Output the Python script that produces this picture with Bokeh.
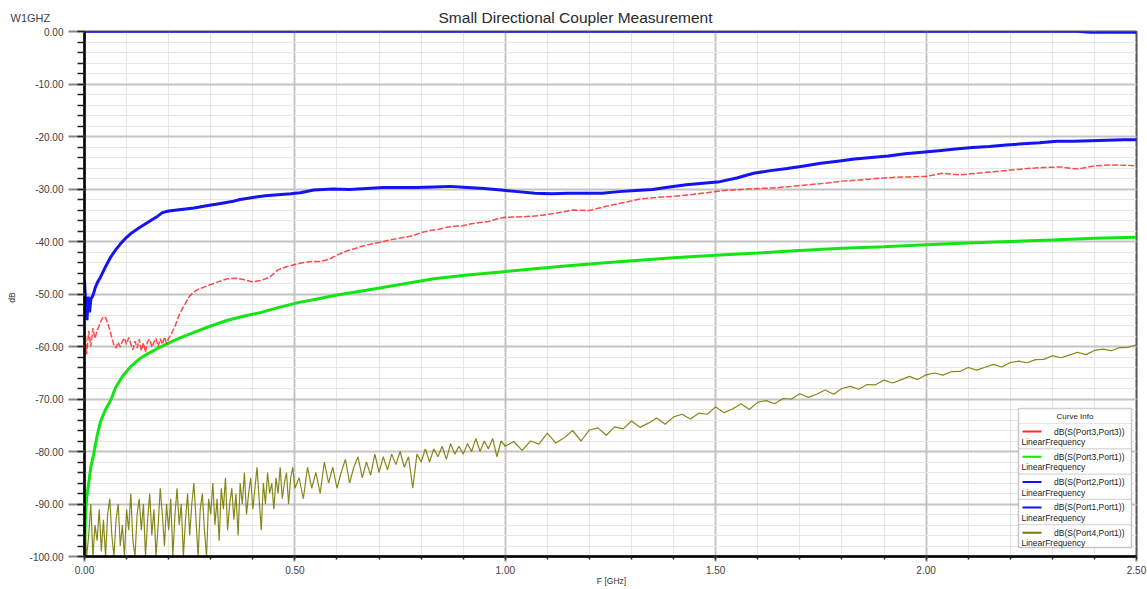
import math
from bokeh.plotting import figure
from bokeh.models import (Range1d, FixedTicker, NumeralTickFormatter, Label,
                          BoxAnnotation, ColumnDataSource)
from bokeh.embed import file_html
from bokeh.resources import INLINE

FONT = "Liberation Sans"

# ---------------- data ----------------
x_ticks = [0.0, 0.5, 1.0, 1.5, 2.0, 2.5]
x_tick_labels = ["0.00", "0.50", "1.00", "1.50", "2.00", "2.50"]
y_ticks = [0, -10, -20, -30, -40, -50, -60, -70, -80, -90, -100]
y_tick_labels = ["0.00", "-10.00", "-20.00", "-30.00", "-40.00", "-50.00",
                 "-60.00", "-70.00", "-80.00", "-90.00", "-100.00"]

legend_labels = ["dB(S(Port3,Port3))", "dB(S(Port3,Port1))", "dB(S(Port2,Port1))",
                 "dB(S(Port1,Port1))", "dB(S(Port4,Port1))"]
legend_sub = "LinearFrequency"

# dB(S(Port3,Port3)) - red dashed
s33_f = [0.000, 0.005, 0.010, 0.015, 0.020, 0.025, 0.030, 0.035, 0.040, 0.045,
         0.050, 0.055, 0.060, 0.065, 0.070, 0.075, 0.080, 0.085, 0.090, 0.095,
         0.100, 0.105, 0.110, 0.115, 0.120, 0.125, 0.130, 0.135, 0.140, 0.145,
         0.150, 0.155, 0.160, 0.165, 0.170, 0.175, 0.180, 0.185, 0.190, 0.195,
         0.200, 0.205, 0.210, 0.215, 0.220, 0.225, 0.230, 0.235, 0.240, 0.245,
         0.250, 0.260, 0.270, 0.280, 0.290, 0.300, 0.32, 0.34, 0.36, 0.38,
         0.40, 0.42, 0.44, 0.46, 0.48, 0.50, 0.52, 0.54, 0.56, 0.58,
         0.60, 0.62, 0.64, 0.66, 0.68, 0.70, 0.72, 0.74, 0.76, 0.78,
         0.80, 0.82, 0.84, 0.86, 0.88, 0.90, 0.92, 0.94, 0.96, 0.98,
         1.00, 1.04, 1.08, 1.12, 1.16, 1.20, 1.24, 1.28, 1.32, 1.36,
         1.40, 1.44, 1.48, 1.52, 1.56, 1.60, 1.64, 1.68, 1.72, 1.76,
         1.80, 1.84, 1.88, 1.92, 1.96, 2.00, 2.04, 2.08, 2.12, 2.16,
         2.20, 2.24, 2.28, 2.32, 2.36, 2.40, 2.44, 2.48, 2.50]
s33_db = [-55.0, -61.5, -57.0, -60.0, -56.5, -58.5, -57.0, -56.0, -55.0, -54.3,
          -54.5, -55.5, -56.8, -58.3, -59.8, -60.3, -59.2, -60.1, -59.0, -58.4,
          -59.6, -58.3, -59.5, -60.6, -59.0, -60.3, -58.6, -60.8, -59.3, -61.1,
          -59.0, -58.6, -60.1, -59.2, -58.4, -60.0, -58.5, -59.6, -58.2, -59.4,
          -58.4, -57.8, -57.0, -56.2, -55.0, -54.0, -53.2, -52.4, -51.8, -51.0,
          -50.4, -49.6, -49.1, -48.8, -48.5, -48.2, -47.6, -47.1, -47.0, -47.3,
          -47.7, -47.4, -46.8, -45.4, -44.8, -44.4, -44.0, -43.8, -43.8, -43.4,
          -42.6, -41.9, -41.4, -40.9, -40.5, -40.2, -39.8, -39.5, -39.2, -38.9,
          -38.3, -37.9, -37.7, -37.3, -37.1, -37.0, -36.6, -36.4, -36.2, -35.7,
          -35.4, -35.3, -35.1, -34.6, -34.0, -34.1, -33.3, -32.6, -31.9, -31.6,
          -31.4, -31.1, -30.7, -30.3, -30.1, -29.9, -29.8, -29.5, -29.2, -28.9,
          -28.5, -28.3, -28.0, -27.8, -27.7, -27.6, -27.0, -27.3, -27.0, -26.7,
          -26.4, -26.1, -25.9, -25.8, -26.2, -25.6, -25.4, -25.5, -25.6]

# dB(S(Port3,Port1)) - green
s31_f = [0.000, 0.002, 0.005, 0.010, 0.015, 0.022, 0.030, 0.038, 0.050, 0.062,
         0.074, 0.090, 0.109, 0.13, 0.15, 0.18, 0.22, 0.26, 0.30, 0.34,
         0.38, 0.42, 0.46, 0.51, 0.55, 0.60, 0.67, 0.75, 0.83, 0.91,
         0.99, 1.07, 1.15, 1.23, 1.31, 1.40, 1.50, 1.60, 1.70, 1.80,
         1.90, 2.00, 2.10, 2.20, 2.30, 2.40, 2.50]
s31_db = [-100.0, -93.0, -89.0, -86.0, -83.0, -80.4, -77.0, -74.3, -72.0, -70.3,
          -67.8, -65.7, -63.9, -62.4, -61.4, -60.1, -58.6, -57.3, -56.1, -55.0,
          -54.2, -53.5, -52.6, -51.6, -51.0, -50.2, -49.3, -48.2, -47.1, -46.4,
          -45.8, -45.2, -44.6, -44.1, -43.6, -43.1, -42.6, -42.2, -41.7, -41.3,
          -41.0, -40.6, -40.3, -40.0, -39.7, -39.4, -39.2]

# dB(S(Port2,Port1)) - blue, along 0 dB
s21_f = [0.00, 0.50, 1.00, 1.50, 2.00, 2.36, 2.39, 2.50]
s21_db = [-0.03, -0.03, -0.03, -0.03, -0.04, -0.05, -0.25, -0.25]

# dB(S(Port1,Port1)) - blue
s11_f = [0.000, 0.003, 0.006, 0.009, 0.012, 0.015, 0.020, 0.026, 0.032, 0.038,
         0.050, 0.062, 0.074, 0.086, 0.100, 0.110, 0.130, 0.150, 0.170, 0.185,
         0.200, 0.230, 0.260, 0.290, 0.320, 0.350, 0.370, 0.400, 0.430, 0.460,
         0.490, 0.513, 0.545, 0.59, 0.63, 0.67, 0.71, 0.75, 0.79, 0.83,
         0.87, 0.91, 0.95, 0.99, 1.03, 1.07, 1.11, 1.15, 1.19, 1.23,
         1.27, 1.31, 1.35, 1.39, 1.43, 1.47, 1.51, 1.55, 1.59, 1.63,
         1.67, 1.71, 1.75, 1.79, 1.83, 1.87, 1.91, 1.95, 1.99, 2.03,
         2.07, 2.11, 2.15, 2.19, 2.23, 2.27, 2.31, 2.35, 2.39, 2.43,
         2.47, 2.50]
s11_db = [-47.5, -52.0, -55.0, -50.5, -53.5, -51.0, -50.3, -48.7, -47.6, -46.8,
          -44.8, -43.0, -41.6, -40.4, -39.2, -38.5, -37.4, -36.4, -35.4, -34.5,
          -34.2, -33.9, -33.6, -33.2, -32.8, -32.4, -32.0, -31.6, -31.3, -31.1,
          -30.9, -30.7, -30.2, -30.0, -30.1, -29.9, -29.7, -29.7, -29.7, -29.6,
          -29.5, -29.7, -29.9, -30.2, -30.5, -30.8, -30.9, -30.8, -30.8, -30.8,
          -30.5, -30.3, -30.1, -29.6, -29.2, -28.9, -28.6, -27.9, -27.0, -26.5,
          -26.1, -25.6, -25.1, -24.7, -24.3, -24.0, -23.7, -23.3, -23.0, -22.7,
          -22.4, -22.1, -21.9, -21.6, -21.4, -21.2, -20.9, -20.9, -20.8, -20.7,
          -20.6, -20.6]

# dB(S(Port4,Port1)) - olive, noisy
s41_f = [0.000, 0.005, 0.010, 0.015, 0.020, 0.025, 0.030, 0.035, 0.040, 0.045,
         0.050, 0.055, 0.060, 0.065, 0.070, 0.075, 0.080, 0.085, 0.090, 0.095,
         0.100, 0.105, 0.110, 0.115, 0.120, 0.125, 0.130, 0.135, 0.140, 0.145,
         0.150, 0.155, 0.160, 0.165, 0.170, 0.175, 0.180, 0.185, 0.190, 0.195,
         0.200, 0.205, 0.210, 0.215, 0.220, 0.225, 0.230, 0.235, 0.240, 0.245,
         0.250, 0.255, 0.260, 0.265, 0.270, 0.275, 0.280, 0.285, 0.290, 0.295,
         0.300, 0.305, 0.310, 0.315, 0.320, 0.325, 0.330, 0.335, 0.340, 0.345,
         0.350, 0.355, 0.360, 0.365, 0.370, 0.375, 0.380, 0.385, 0.390, 0.395,
         0.400, 0.405, 0.410, 0.415, 0.420, 0.425, 0.430, 0.435, 0.440, 0.445,
         0.450, 0.455, 0.460, 0.465, 0.470, 0.475, 0.480, 0.485, 0.490, 0.495,
         0.500,
         0.51, 0.52, 0.53, 0.54, 0.55, 0.56, 0.57, 0.58, 0.59, 0.60,
         0.61, 0.62, 0.63, 0.64, 0.65, 0.66, 0.67, 0.68, 0.69, 0.70,
         0.71, 0.72, 0.73, 0.74, 0.75, 0.76, 0.77, 0.78, 0.79, 0.80,
         0.81, 0.82, 0.83, 0.84, 0.85, 0.86, 0.87, 0.88, 0.89, 0.90,
         0.91, 0.92, 0.93, 0.94, 0.95, 0.96, 0.97, 0.98, 0.99, 1.00,
         1.02, 1.04, 1.06, 1.08, 1.10, 1.12, 1.14, 1.16, 1.18, 1.20,
         1.22, 1.24, 1.26, 1.28, 1.30, 1.32, 1.34, 1.36, 1.38, 1.40,
         1.42, 1.44, 1.46, 1.48, 1.50, 1.52, 1.54, 1.56, 1.58, 1.60,
         1.62, 1.64, 1.66, 1.68, 1.70, 1.72, 1.74, 1.76, 1.78, 1.80,
         1.82, 1.84, 1.86, 1.88, 1.90, 1.92, 1.94, 1.96, 1.98, 2.00,
         2.02, 2.04, 2.06, 2.08, 2.10, 2.12, 2.14, 2.16, 2.18, 2.20,
         2.22, 2.24, 2.26, 2.28, 2.30, 2.32, 2.34, 2.36, 2.38, 2.40,
         2.42, 2.44, 2.46, 2.48, 2.50]
s41_db = [-93, -100, -96, -90, -100, -94, -97, -91, -99, -93,
          -100, -92, -89, -96, -100, -93, -90, -98, -94, -100,
          -91, -95, -88, -97, -100, -92, -89, -95, -90, -100,
          -93, -88, -96, -91, -100, -94, -87, -92, -98, -90,
          -95, -89, -100, -92, -87, -94, -90, -100, -93, -88,
          -96, -90, -86, -93, -100, -91, -88, -95, -100, -89,
          -92, -86, -94, -89, -97, -87, -91, -85, -95, -90,
          -87, -93, -88, -96, -86, -90, -84, -92, -88, -85,
          -91, -87, -83, -89, -95, -86, -90, -84, -88, -86,
          -91, -85, -88, -83, -89, -86, -84, -90, -85, -83,
          -87,
          -85, -89, -83, -87, -84, -88, -82, -86, -83, -87,
          -84, -81.5, -86, -83, -81, -85, -82, -84.5, -80.5, -84,
          -81, -83.5, -80.5, -82.5, -80, -83, -81, -87, -80.5, -82,
          -79.5, -82, -79.5, -81, -79, -81.5, -78.5, -80.5, -79, -80.5,
          -78.5, -80, -77.5, -80, -78, -79.5, -77.5, -81, -78, -79,
          -78.1, -79.8, -78.0, -78.6, -76.5, -78.4, -77.4, -76.0, -78.0, -75.9,
          -75.5, -76.9, -75.3, -75.7, -74.2, -75.4, -74.6, -73.6, -74.8, -73.4,
          -72.9, -73.8, -72.7, -72.9, -71.5, -72.6, -71.9, -70.9, -72.0, -70.6,
          -70.3, -70.9, -69.9, -70.0, -69.0, -69.7, -69.1, -68.3, -69.1, -68.0,
          -67.6, -68.15, -67.25, -67.3, -66.4, -66.95, -66.35, -65.7, -66.3, -65.4,
          -65.05, -65.45, -64.8, -64.75, -64.0, -64.5, -63.95, -63.4, -63.9, -63.05,
          -62.8, -63.1, -62.5, -62.45, -61.75, -62.15, -61.65, -61.1, -61.55, -60.75,
          -60.5, -60.8, -60.2, -60.15, -59.7]

series_colors = ["#ff2a2a", "#12e612", "#1414f0", "#1414f0", "#7a7a00"]

# ---------------- figure ----------------
p = figure(width=1147, height=589, output_backend="svg", toolbar_location=None,
           x_range=Range1d(0, 2.5), y_range=Range1d(-100, 0), title=None,
           min_border_left=84, min_border_right=11, min_border_top=31,
           min_border_bottom=33)
p.background_fill_color = "white"
p.border_fill_color = "white"
p.outline_line_color = "#555555"
p.outline_line_width = 2

xa = p.xaxis[0]
xa.ticker = FixedTicker(ticks=x_ticks,
                        minor_ticks=[i / 10 for i in range(0, 26)])
xa.formatter = NumeralTickFormatter(format="0.00")
xa.major_label_overrides = dict(zip(x_ticks, x_tick_labels))
ya = p.yaxis[0]
ya.ticker = FixedTicker(ticks=y_ticks, minor_ticks=list(range(-100, 1, 2)))
ya.formatter = NumeralTickFormatter(format="0.00")
ya.major_label_overrides = dict(zip(y_ticks, y_tick_labels))

for ax in (xa, ya):
    ax.axis_line_color = "black"
    ax.axis_line_width = 2.5
    ax.major_tick_in = 0
    ax.minor_tick_in = 0
    ax.major_tick_line_color = "#888888"
    ax.major_tick_line_width = 2
    ax.minor_tick_line_color = "#222222"
    ax.minor_tick_line_width = 1.5
    ax.major_label_text_font = FONT
    ax.major_label_text_font_size = "10px"
    ax.major_label_text_color = "#404040"
ya.major_tick_out = 16
ya.minor_tick_out = 7
ya.major_label_standoff = 5
xa.major_tick_out = 5
xa.minor_tick_out = 3
xa.major_label_standoff = 4

for g in (p.xgrid[0], p.ygrid[0]):
    g.grid_line_color = "#c4c4c4"
    g.grid_line_width = 2
    g.minor_grid_line_color = "#e6e6e6"
    g.minor_grid_line_width = 1

# ---------------- curves ----------------
p.line("f", "db", source=ColumnDataSource(dict(f=s41_f, db=s41_db)),
       line_color=series_colors[4], line_width=1.2, line_alpha=0.9)
p.line("f", "db", source=ColumnDataSource(dict(f=s31_f, db=s31_db)),
       line_color=series_colors[1], line_width=3)
p.line("f", "db", source=ColumnDataSource(dict(f=s33_f, db=s33_db)),
       line_color=series_colors[0], line_width=1.5, line_alpha=0.85,
       line_dash="6 2")
p.line("f", "db", source=ColumnDataSource(dict(f=s11_f, db=s11_db)),
       line_color=series_colors[3], line_width=3)
p.line("f", "db", source=ColumnDataSource(dict(f=s21_f, db=s21_db)),
       line_color=series_colors[2], line_width=2)


# ---------------- decorations (positions in page pixels) ----------------
def fx(px):
    return (px - 84) / 420.8


def fy(py):
    return -(py - 31) / 5.25


def make_text(text, px, py, size, align="left", color="#333333", angle=0.0):
    return Label(x=fx(px), y=fy(py), text=text, text_font=FONT,
                 text_font_size=size, text_align=align,
                 text_baseline="middle", text_color=color, angle=angle)


# texts outside the frame live in the side panels (not clipped there)
p.add_layout(make_text("Small Directional Coupler Measurement", 575, 17, "15.5px",
                       "center", "#2a2a2a"), "above")
p.add_layout(make_text("W1GHZ", 10, 17, "11px", "left", "#444444"), "above")
p.add_layout(make_text("dB", 11, 297, "8.5px", "center", "#333333",
                       angle=math.pi / 2), "left")
p.add_layout(make_text("F [GHz]", 611, 580, "8.5px", "center", "#333333"), "below")

# legend box "Curve Info"
p.add_layout(BoxAnnotation(left=fx(1018), right=fx(1131), top=fy(408), bottom=fy(547),
                           fill_color="white", fill_alpha=1.0,
                           line_color="#666666", line_width=1.5))
row_h = 25.3
for i in range(5):
    top = 423 + row_h * i
    bot = min(423 + row_h * (i + 1), 547)
    p.add_layout(BoxAnnotation(left=fx(1018), right=fx(1131), top=fy(top), bottom=fy(bot),
                               fill_alpha=0.0, line_color="#a8a8a8", line_width=1))
    p.add_layout(BoxAnnotation(left=fx(1022), right=fx(1041),
                               top=fy(top + 7), bottom=fy(top + 9),
                               fill_color=series_colors[i], fill_alpha=1.0,
                               line_alpha=0.0))
    p.add_layout(make_text(legend_labels[i], 1124, top + 8, "8.5px", "right", "#1a1a1a"))
    p.add_layout(make_text(legend_sub, 1021, top + 18.5, "8.5px", "left", "#1a1a1a"))
p.add_layout(make_text("Curve Info", 1074.5, 415.5, "8px", "center", "#1a1a1a"))

open("out.html", "w").write(file_html(p, INLINE))
